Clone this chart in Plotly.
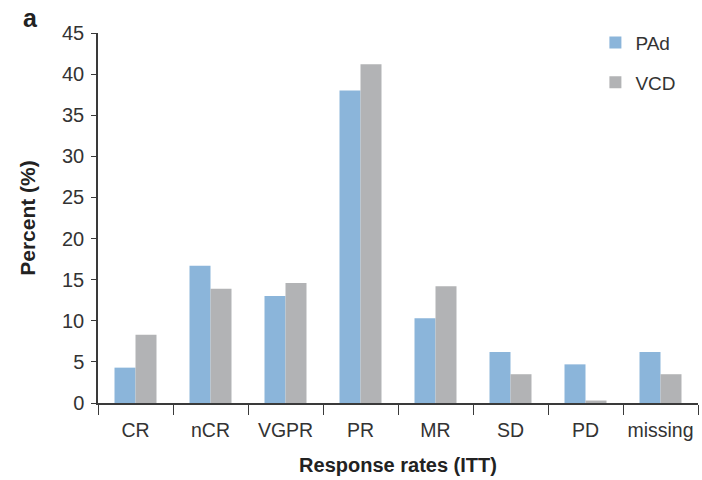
import plotly.graph_objects as go

# Response categories and percentages per arm
categories = ["CR", "nCR", "VGPR", "PR", "MR", "SD", "PD", "missing"]
pad_values = [4.3, 16.7, 13.0, 38.0, 10.3, 6.2, 4.7, 6.2]
vcd_values = [8.3, 13.9, 14.6, 41.2, 14.2, 3.5, 0.3, 3.5]
y_ticks = [0, 5, 10, 15, 20, 25, 30, 35, 40, 45]

FONT = "Liberation Sans, Arial, sans-serif"
AXIS_COLOR = "#3a3a3a"

fig = go.Figure()
fig.add_trace(go.Bar(
    x=categories, y=pad_values, name="PAd", legendgroup="pad",
    marker=dict(color="#8bb5da", line=dict(width=0)),
))
fig.add_trace(go.Bar(
    x=categories, y=vcd_values, name="VCD", legendgroup="vcd",
    marker=dict(color="#b2b3b5", line=dict(width=0)),
))

fig.update_layout(
    width=702, height=480,
    margin=dict(l=98, r=4, t=33, b=77),
    paper_bgcolor="white", plot_bgcolor="white",
    barmode="group", bargap=0.44, bargroupgap=0,
    font=dict(family=FONT, size=19, color="#333333"),
    showlegend=True,
    legend=dict(
        x=0.829, y=1.025, xanchor="left", yanchor="top",
        traceorder="grouped", tracegroupgap=12,
        font=dict(size=19, color="#333333"),
        itemwidth=30, bgcolor="rgba(0,0,0,0)",
    ),
    xaxis=dict(
        type="category", automargin=False, tickangle=0,
        showline=True, linecolor=AXIS_COLOR, linewidth=1.5,
        ticks="outside", tickson="boundaries", ticklen=10,
        tickcolor=AXIS_COLOR, tickwidth=1.2,
        tickfont=dict(size=19.5, color="#333333"),
        ticklabelstandoff=9,
        title=dict(text="<b>Response rates (ITT)</b>", font=dict(size=20, color="#222222"), standoff=18),
        showgrid=False, zeroline=False,
    ),
    yaxis=dict(
        range=[0, 45], tickvals=y_ticks, automargin=False,
        showline=True, linecolor=AXIS_COLOR, linewidth=1.5,
        ticks="outside", ticklen=5, tickcolor=AXIS_COLOR, tickwidth=1.2,
        tickfont=dict(size=20, color="#333333"),
        ticklabelstandoff=3,
        title=dict(text="<b>Percent (%)</b>", font=dict(size=21, color="#222222"), standoff=21),
        showgrid=False, zeroline=False,
    ),
    annotations=[
        dict(text="<b>a</b>", xref="paper", yref="paper", x=-0.113, y=1.04,
             xanchor="center", yanchor="middle", showarrow=False,
             font=dict(size=25, color="#222222")),
    ],
)

fig.write_html("out.html")
